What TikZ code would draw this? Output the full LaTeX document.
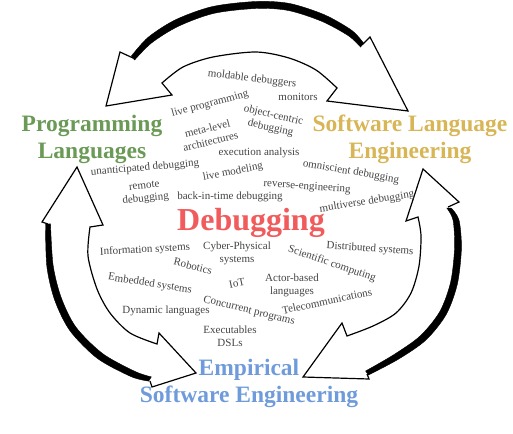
\documentclass[tikz,border=0pt]{standalone}
\usepackage{fontspec}
\setmainfont{Liberation Serif}
\definecolor{plgreen}{HTML}{6A9A55}
\definecolor{slegold}{HTML}{D8B656}
\definecolor{eseblue}{HTML}{6F9BDB}
\definecolor{dbgred}{HTML}{F25B5B}
\definecolor{txtgray}{HTML}{454545}
\tikzset{
  small/.style={font=\fontsize{11}{13}\selectfont, text=txtgray, align=center, inner sep=0pt},
  title/.style={font=\fontsize{23.5}{27}\selectfont\bfseries, align=center, inner sep=0pt},
  outline/.style={draw=black, line width=1.2pt, line join=miter},
  crescent/.style={fill=black, draw=black, line width=0.4pt}
}
\begin{document}
\begin{tikzpicture}[x=1pt,y=-1pt]
\useasboundingbox[fill=white] (0,0) rectangle (513,433);

% ---------- top arrow (PL <-> SLE)
\draw[outline] (133,58) -- (120,52) -- (106,106) -- (172,95) -- (162,83)
  -- plot[smooth] coordinates {(162,83) (183,67) (213,57) (256,52) (289,58) (316,70) (337,88)}
  -- (327,101) -- (408,111) -- (370,37) -- (362,45);
\fill[crescent] plot[smooth] coordinates {(131.4,56.0) (148.3,37.2) (175.7,19.7) (212.3,6.6) (256,1.5) (289.6,3.5) (324.2,14.7) (351.5,30.2) (363.4,42.9)}
  -- plot[smooth] coordinates {(360.6,47.1) (348.5,35.8) (321.8,21.3) (288.4,10.5) (256,8.5) (213.7,13.4) (178.3,26.3) (151.7,42.8) (134.6,60.0)} -- cycle;

% ---------- left arrow (PL <-> ESE)
\draw[outline] (48,224) -- (42,222) -- (77,167) -- (103,225) -- (90,227)
  -- plot[smooth] coordinates {(90,227) (88,256) (97,289) (110,313) (130,333) (157,344)}
  -- (159,333) -- (196,373) -- (152,387) -- (150,381);
\fill[crescent] plot[smooth] coordinates {(45.5,224.1) (46.9,266.8) (54.8,300.4) (70.1,330.9) (97.4,358.4) (131.1,376.6) (148.7,381.1)}
  -- plot[smooth] coordinates {(151.3,376.9) (134.9,371.4) (102.6,353.6) (75.9,327.1) (61.2,297.6) (53.1,265.2) (50.5,223.9)} -- cycle;

% ---------- right arrow (SLE <-> ESE)
\draw[outline] (448,207) -- (459,202) -- (423,169) -- (406,221) -- (418,217)
  -- plot[smooth] coordinates {(418,217) (421,236) (419,266) (411,293) (396,313) (373,326) (347,336)}
  -- (342,323) -- (303,377) -- (369,379) -- (367,374);
\fill[crescent] plot[smooth] coordinates {(451.2,208) (459,220.1) (461.4,248.6) (457.3,284.2) (446.1,314.6) (425.8,340.1) (398.2,359.3) (368.4,375)}
  -- plot[smooth] coordinates {(365.6,371) (393.8,354.7) (420.2,335.9) (439.9,311.4) (450.7,281.8) (454.6,247.4) (453,219.9) (446.8,208)} -- cycle;

% ---------- titles
\node[title, text=plgreen] (pl) at (92,139) {Programming\\Languages};
\node[title, text=slegold] (sle) at (410,139) {Software Language\\Engineering};
\node[title, text=eseblue] (ese) at (249,383) {Empirical\\Software Engineering};
\node[inner sep=0pt, font=\fontsize{32}{36}\selectfont\bfseries, text=dbgred] (dbg) at (251,223) {Debugging};

% ---------- topics (upper half)
\node[small, rotate=-7] (t1) at (252,79) {moldable debuggers};
\node[small] (t2) at (298,97) {monitors};
\node[small, rotate=15] (t3) at (210,104) {live programming};
\node[small, rotate=-13] (t4) at (272,122) {object-centric\\debugging};
\node[small, rotate=14] (t5) at (209,135) {meta-level\\architectures};
\node[small] (t6) at (259,153) {execution analysis};
\node[small, rotate=11] (t7) at (233,172) {live modeling};
\node[small, rotate=-10] (t8) at (351,172) {omniscient debugging};
\node[small, rotate=-4] (t9) at (307,187) {reverse-engineering};
\node[small] (t10) at (230,197) {back-in-time debugging};
\node[small, rotate=6] (t11) at (145,193) {remote\\debugging};
\node[small, rotate=5] (t12) at (145,168) {unanticipated debugging};
\node[small, rotate=9] (t13) at (367,202) {multiverse debugging};

% ---------- topics (lower half)
\node[small, rotate=3] (b1) at (145,250) {Information systems};
\node[small] (b2) at (237,253) {Cyber-Physical\\systems};
\node[small, rotate=-14] (b3) at (193,266) {Robotics};
\node[small, rotate=-4] (b4) at (370,249) {Distributed systems};
\node[small, rotate=-19] (b5) at (332,264) {Scientific computing};
\node[small, rotate=-9] (b6) at (150,284) {Embedded systems};
\node[small, rotate=12] (b7) at (237,283) {IoT};
\node[small] (b8) at (292,285) {Actor-based\\languages};
\node[small, rotate=12] (b9) at (327,301) {Telecommunications};
\node[small, rotate=-14] (b10) at (249,311) {Concurrent programs};
\node[small] (b11) at (166,311) {Dynamic languages};
\node[small] (b12) at (230,336) {Executables\\DSLs};
\end{tikzpicture}
\end{document}
